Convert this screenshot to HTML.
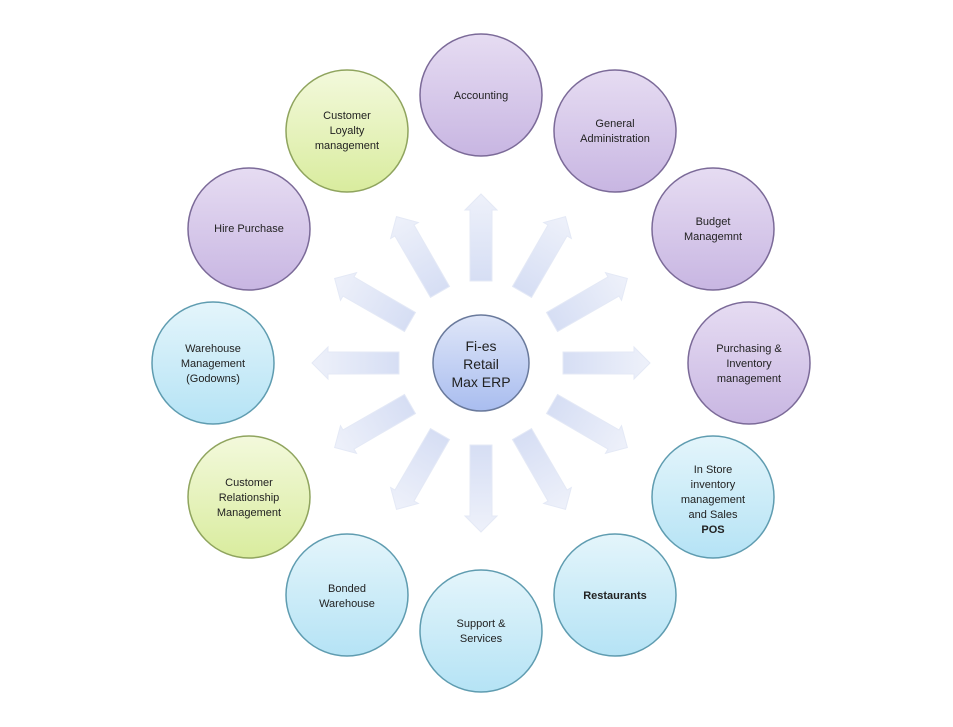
<!DOCTYPE html>
<html><head><meta charset="utf-8"><style>
html,body{margin:0;padding:0;background:#fff;width:953px;height:727px;overflow:hidden}
svg{display:block}
text{font-family:"Liberation Sans",sans-serif;fill:#222;font-size:11px;text-anchor:middle}
</style></head><body>
<svg width="953" height="727" viewBox="0 0 953 727" xmlns="http://www.w3.org/2000/svg">
<defs>
<linearGradient id="pu" x1="0" y1="0" x2="0" y2="1"><stop offset="0" stop-color="#e6dcf2"/><stop offset="1" stop-color="#c8b6e2"/></linearGradient>
<linearGradient id="gr" x1="0" y1="0" x2="0" y2="1"><stop offset="0" stop-color="#f3f9dc"/><stop offset="1" stop-color="#d9ec9e"/></linearGradient>
<linearGradient id="bl" x1="0" y1="0" x2="0" y2="1"><stop offset="0" stop-color="#e4f5fb"/><stop offset="1" stop-color="#b5e3f5"/></linearGradient>
<linearGradient id="ce" x1="0" y1="0" x2="0" y2="1"><stop offset="0" stop-color="#dfe6f8"/><stop offset="1" stop-color="#a9bdef"/></linearGradient>
<linearGradient id="ar" x1="0" y1="1" x2="0" y2="0"><stop offset="0" stop-color="#d6def4"/><stop offset="1" stop-color="#eef1fa"/></linearGradient>
<polygon id="arrow" points="-11,-82 11,-82 11,-153 16,-153 0,-169 -16,-153 -11,-153" fill="url(#ar)" stroke="#e4e9f6" stroke-width="1"/>
</defs>
<g transform="translate(481,363)">
<use href="#arrow" transform="rotate(0)"/>
<use href="#arrow" transform="rotate(30)"/>
<use href="#arrow" transform="rotate(60)"/>
<use href="#arrow" transform="rotate(90)"/>
<use href="#arrow" transform="rotate(120)"/>
<use href="#arrow" transform="rotate(150)"/>
<use href="#arrow" transform="rotate(180)"/>
<use href="#arrow" transform="rotate(210)"/>
<use href="#arrow" transform="rotate(240)"/>
<use href="#arrow" transform="rotate(270)"/>
<use href="#arrow" transform="rotate(300)"/>
<use href="#arrow" transform="rotate(330)"/>
</g>
<g stroke-width="1.5">
<circle cx="481" cy="95" r="61" fill="url(#pu)" stroke="#7b6a98"/>
<circle cx="615" cy="131" r="61" fill="url(#pu)" stroke="#7b6a98"/>
<circle cx="713" cy="229" r="61" fill="url(#pu)" stroke="#7b6a98"/>
<circle cx="749" cy="363" r="61" fill="url(#pu)" stroke="#7b6a98"/>
<circle cx="713" cy="497" r="61" fill="url(#bl)" stroke="#5f9cb0"/>
<circle cx="615" cy="595" r="61" fill="url(#bl)" stroke="#5f9cb0"/>
<circle cx="481" cy="631" r="61" fill="url(#bl)" stroke="#5f9cb0"/>
<circle cx="347" cy="595" r="61" fill="url(#bl)" stroke="#5f9cb0"/>
<circle cx="249" cy="497" r="61" fill="url(#gr)" stroke="#8fa45e"/>
<circle cx="213" cy="363" r="61" fill="url(#bl)" stroke="#5f9cb0"/>
<circle cx="249" cy="229" r="61" fill="url(#pu)" stroke="#7b6a98"/>
<circle cx="347" cy="131" r="61" fill="url(#gr)" stroke="#8fa45e"/>
<circle cx="481" cy="363" r="48" fill="url(#ce)" stroke="#6a7a9c"/>
</g>
<text x="481" y="99">Accounting</text>
<text x="615" y="127">General</text><text x="615" y="142">Administration</text>
<text x="713" y="225">Budget</text><text x="713" y="240">Managemnt</text>
<text x="749" y="352">Purchasing &amp;</text><text x="749" y="367">Inventory</text><text x="749" y="382">management</text>
<text x="713" y="473">In Store</text><text x="713" y="488">inventory</text><text x="713" y="503">management</text><text x="713" y="518">and Sales</text><text x="713" y="533" font-weight="bold">POS</text>
<text x="615" y="599" font-weight="bold">Restaurants</text>
<text x="481" y="627">Support &amp;</text><text x="481" y="642">Services</text>
<text x="347" y="592">Bonded</text><text x="347" y="607">Warehouse</text>
<text x="249" y="486">Customer</text><text x="249" y="501">Relationship</text><text x="249" y="516">Management</text>
<text x="213" y="352">Warehouse</text><text x="213" y="367">Management</text><text x="213" y="382">(Godowns)</text>
<text x="249" y="232">Hire Purchase</text>
<text x="347" y="119">Customer</text><text x="347" y="134">Loyalty</text><text x="347" y="149">management</text>
<text x="481" y="351" style="font-size:14px">Fi-es</text>
<text x="481" y="369" style="font-size:14px">Retail</text>
<text x="481" y="387" style="font-size:14px">Max ERP</text>
</svg>
</body></html>
